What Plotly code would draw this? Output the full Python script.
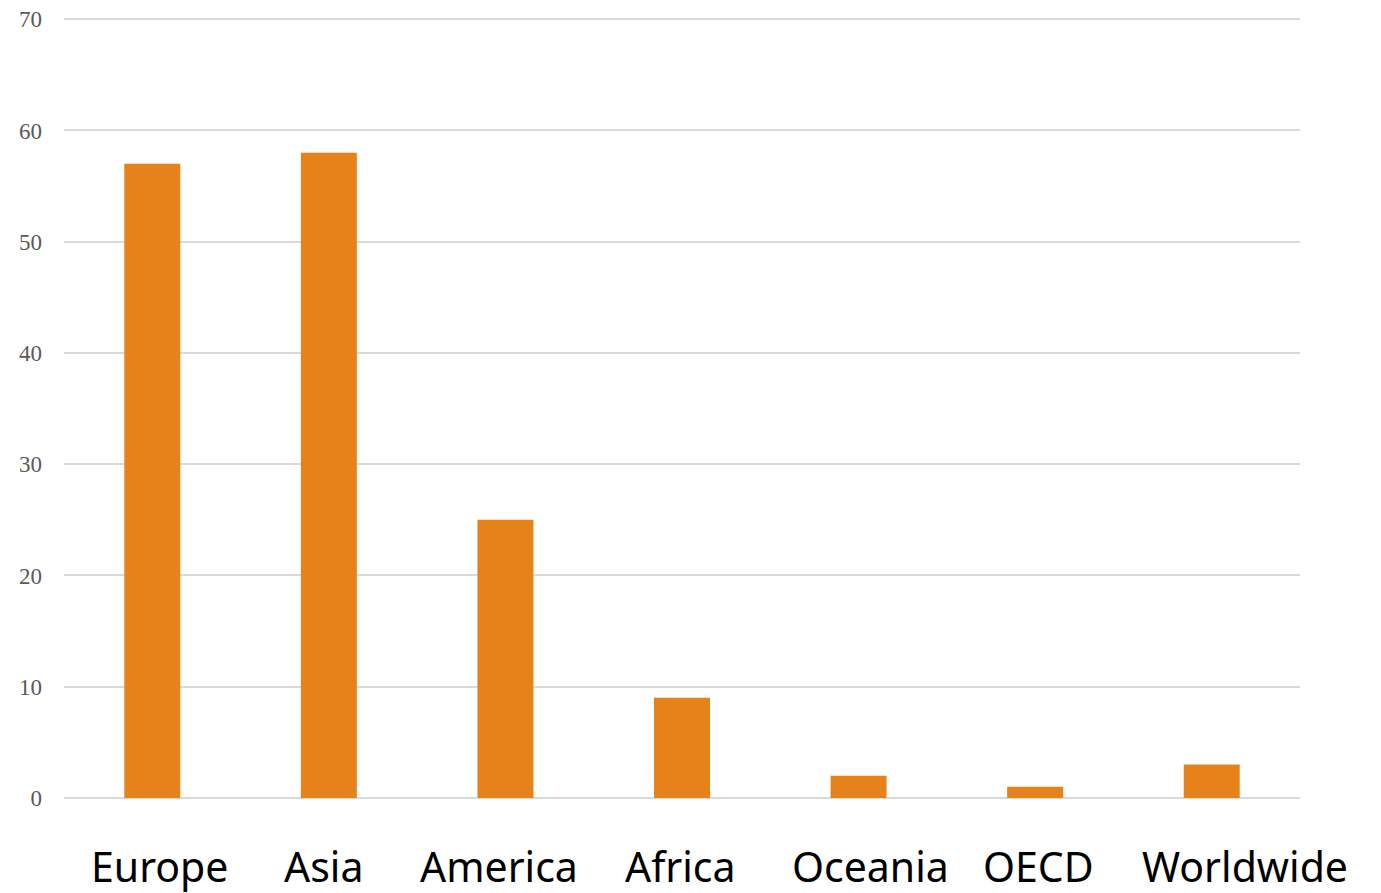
import plotly.graph_objects as go

categories = ["Europe", "Asia", "America", "Africa", "Oceania", "OECD", "Worldwide"]
values = [57, 58, 25, 9, 2, 1, 3]
y_ticks = [0, 10, 20, 30, 40, 50, 60, 70]
label_shift = [7, -5, -6, -2, 12, 3, 33]

fig = go.Figure()
fig.add_trace(go.Bar(x=categories, y=values, marker=dict(color="#E5831A", line=dict(width=0))))

for c, s in zip(categories, label_shift):
    fig.add_annotation(x=c, y=0, xref="x", yref="paper", text=c, showarrow=False,
                       xshift=s, yshift=-68, yanchor="middle", xanchor="center",
                       font=dict(family="Noto Sans, Lato, sans-serif", size=41, color="#000000"))

fig.update_layout(
    width=1381, height=893,
    margin=dict(l=64, r=81, t=17, b=95, autoexpand=False),
    paper_bgcolor="white", plot_bgcolor="white",
    bargap=0.683, showlegend=False,
    xaxis=dict(range=[-0.5, len(categories) - 0.5], autorange=False, showticklabels=False,
               showgrid=False, zeroline=False, showline=False, ticks=""),
    yaxis=dict(range=[0, 70.2], autorange=False, tickvals=y_ticks, showgrid=True, gridcolor="#D9D9D9", gridwidth=1.5,
               zeroline=True, zerolinecolor="#D9D9D9", zerolinewidth=1.5, showline=False,
               ticks="", ticklabelstandoff=21,
               tickfont=dict(family="Liberation Serif, Times New Roman, serif", size=23, color="#595959")),
)
fig.write_html("out.html")
